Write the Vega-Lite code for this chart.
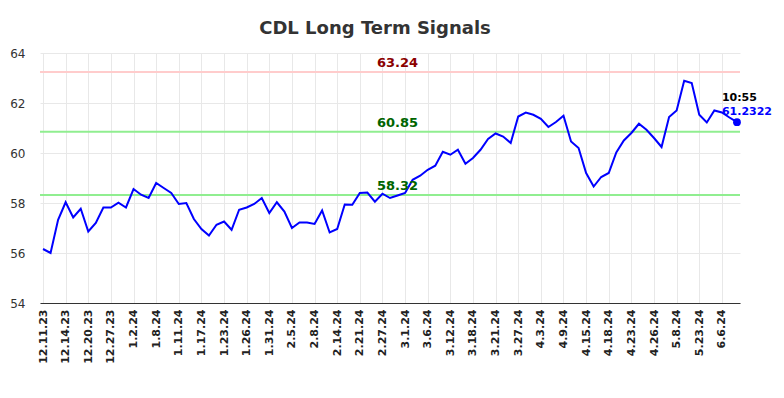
{
  "$schema": "https://vega.github.io/schema/vega-lite/v6.json",
  "width": 700,
  "height": 250,
  "autosize": "none",
  "padding": {"left": 40, "top": 53, "right": 44, "bottom": 95},
  "background": "white",
  "title": {
    "text": "CDL Long Term Signals",
    "fontSize": 18,
    "fontWeight": "bold",
    "color": "#333333",
    "font": "DejaVu Sans",
    "anchor": "middle",
    "dx": -15,
    "offset": 9
  },
  "config": {
    "view": {"stroke": null},
    "font": "DejaVu Sans"
  },
  "data": {
    "values": [
      {"date": "12.11.23", "v": 56.16}, {"date": "12.12.23", "v": 56.0}, {"date": "12.13.23", "v": 57.33},
      {"date": "12.14.23", "v": 58.03}, {"date": "12.15.23", "v": 57.42}, {"date": "12.18.23", "v": 57.77},
      {"date": "12.20.23", "v": 56.86}, {"date": "12.21.23", "v": 57.2}, {"date": "12.22.23", "v": 57.82},
      {"date": "12.27.23", "v": 57.82}, {"date": "12.28.23", "v": 58.01}, {"date": "12.29.23", "v": 57.82},
      {"date": "1.2.24", "v": 58.56}, {"date": "1.3.24", "v": 58.33}, {"date": "1.4.24", "v": 58.2},
      {"date": "1.8.24", "v": 58.8}, {"date": "1.9.24", "v": 58.6}, {"date": "1.10.24", "v": 58.4},
      {"date": "1.11.24", "v": 57.96}, {"date": "1.12.24", "v": 58.0}, {"date": "1.16.24", "v": 57.36},
      {"date": "1.17.24", "v": 56.96}, {"date": "1.18.24", "v": 56.7}, {"date": "1.19.24", "v": 57.13},
      {"date": "1.23.24", "v": 57.26}, {"date": "1.24.24", "v": 56.93}, {"date": "1.25.24", "v": 57.73},
      {"date": "1.26.24", "v": 57.82}, {"date": "1.29.24", "v": 57.96}, {"date": "1.30.24", "v": 58.2},
      {"date": "1.31.24", "v": 57.6}, {"date": "2.1.24", "v": 58.03}, {"date": "2.2.24", "v": 57.66},
      {"date": "2.5.24", "v": 57.0}, {"date": "2.6.24", "v": 57.22}, {"date": "2.7.24", "v": 57.22},
      {"date": "2.8.24", "v": 57.16}, {"date": "2.9.24", "v": 57.7}, {"date": "2.13.24", "v": 56.82},
      {"date": "2.14.24", "v": 56.96}, {"date": "2.15.24", "v": 57.94}, {"date": "2.20.24", "v": 57.93},
      {"date": "2.21.24", "v": 58.4}, {"date": "2.22.24", "v": 58.42}, {"date": "2.26.24", "v": 58.05},
      {"date": "2.27.24", "v": 58.37}, {"date": "2.28.24", "v": 58.2}, {"date": "2.29.24", "v": 58.3},
      {"date": "3.1.24", "v": 58.4}, {"date": "3.4.24", "v": 58.93}, {"date": "3.5.24", "v": 59.09},
      {"date": "3.6.24", "v": 59.33}, {"date": "3.7.24", "v": 59.49}, {"date": "3.11.24", "v": 60.05},
      {"date": "3.12.24", "v": 59.93}, {"date": "3.13.24", "v": 60.13}, {"date": "3.15.24", "v": 59.57},
      {"date": "3.18.24", "v": 59.8}, {"date": "3.19.24", "v": 60.13}, {"date": "3.20.24", "v": 60.56},
      {"date": "3.21.24", "v": 60.78}, {"date": "3.22.24", "v": 60.66}, {"date": "3.26.24", "v": 60.4},
      {"date": "3.27.24", "v": 61.46}, {"date": "3.28.24", "v": 61.62}, {"date": "4.2.24", "v": 61.53},
      {"date": "4.3.24", "v": 61.37}, {"date": "4.4.24", "v": 61.04}, {"date": "4.8.24", "v": 61.24},
      {"date": "4.9.24", "v": 61.49}, {"date": "4.11.24", "v": 60.46}, {"date": "4.12.24", "v": 60.2},
      {"date": "4.15.24", "v": 59.2}, {"date": "4.16.24", "v": 58.66}, {"date": "4.17.24", "v": 59.04},
      {"date": "4.18.24", "v": 59.2}, {"date": "4.19.24", "v": 60.02}, {"date": "4.22.24", "v": 60.5},
      {"date": "4.23.24", "v": 60.8}, {"date": "4.24.24", "v": 61.17}, {"date": "4.25.24", "v": 60.93},
      {"date": "4.26.24", "v": 60.6}, {"date": "4.30.24", "v": 60.24}, {"date": "5.3.24", "v": 61.44},
      {"date": "5.8.24", "v": 61.7}, {"date": "5.13.24", "v": 62.89}, {"date": "5.17.24", "v": 62.8},
      {"date": "5.23.24", "v": 61.53}, {"date": "5.28.24", "v": 61.22}, {"date": "6.3.24", "v": 61.7},
      {"date": "6.6.24", "v": 61.62}, {"date": "6.7.24", "v": 61.42}, {"date": "6.10.24", "v": 61.2322}
    ]
  },
  "encoding": {
    "x": {
      "field": "date",
      "type": "ordinal",
      "sort": null,
      "scale": {"type": "point", "padding": 0.4},
      "axis": {
        "title": null,
        "values": ["12.11.23", "12.14.23", "12.20.23", "12.27.23", "1.2.24", "1.8.24", "1.11.24", "1.17.24", "1.23.24", "1.26.24", "1.31.24", "2.5.24", "2.8.24", "2.14.24", "2.21.24", "2.27.24", "3.1.24", "3.6.24", "3.12.24", "3.18.24", "3.21.24", "3.27.24", "4.3.24", "4.9.24", "4.15.24", "4.18.24", "4.23.24", "4.26.24", "5.8.24", "5.23.24", "6.6.24"],
        "labelAngle": -90,
        "labelFontSize": 11,
        "labelFontWeight": "bold",
        "labelColor": "#222222",
        "labelPadding": 6,
        "ticks": false,
        "grid": true,
        "gridColor": "#e8e8e8",
        "gridWidth": 1,
        "domainColor": "#333333",
        "domainWidth": 1
      }
    },
    "y": {
      "field": "v",
      "type": "quantitative",
      "scale": {"domain": [54, 64], "nice": false, "zero": false},
      "axis": {
        "title": null,
        "values": [54, 56, 58, 60, 62, 64],
        "labelFontSize": 12,
        "labelColor": "#333333",
        "labelPadding": 15,
        "ticks": false,
        "domain": false,
        "grid": true,
        "gridColor": "#e8e8e8",
        "gridWidth": 1
      }
    }
  },
  "layer": [
    {
      "data": {"values": [{"level": 63.24, "kind": "r"}, {"level": 60.85, "kind": "g"}, {"level": 58.32, "kind": "g"}]},
      "mark": {"type": "rule", "strokeWidth": 2},
      "encoding": {
        "x": null,
        "y": {"field": "level", "type": "quantitative"},
        "color": {"field": "kind", "type": "nominal", "scale": {"domain": ["r", "g"], "range": ["#ffcccc", "#90ee90"]}, "legend": null}
      }
    },
    {"mark": {"type": "line", "color": "#0000ff", "strokeWidth": 2}},
    {
      "data": {"values": [{"level": 63.24, "kind": "r"}, {"level": 60.85, "kind": "g"}, {"level": 58.32, "kind": "g"}]},
      "mark": {"type": "text", "fontSize": 13, "fontWeight": "bold", "baseline": "bottom", "dy": -2},
      "encoding": {
        "x": {"datum": "2.29.24"},
        "y": {"field": "level", "type": "quantitative"},
        "text": {"field": "level", "type": "quantitative", "format": ".2f"},
        "fill": {"field": "kind", "type": "nominal", "scale": {"domain": ["r", "g"], "range": ["#8b0000", "#006400"]}, "legend": null}
      }
    },
    {
      "data": {"values": [{"label": "Stock Traders Daily"}]},
      "mark": {"type": "text", "color": "#999999", "fontSize": 13, "fontWeight": "bold", "align": "left", "baseline": "middle", "dx": 3, "dy": -1, "opacity": 0.85},
      "encoding": {"x": {"datum": "12.12.23"}, "y": {"datum": 54}, "text": {"field": "label"}}
    },
    {
      "transform": [{"filter": "datum.date == '6.10.24'"}],
      "layer": [
        {"mark": {"type": "circle", "color": "#0000ff", "size": 60, "opacity": 1}},
        {
          "mark": {"type": "text", "color": "#000000", "fontSize": 11, "fontWeight": "bold", "align": "left", "baseline": "middle", "dy": -24},
          "encoding": {"x": {"datum": "6.6.24"}, "text": {"value": "10:55"}}
        },
        {
          "mark": {"type": "text", "color": "#0000ff", "fontSize": 11, "fontWeight": "bold", "align": "left", "baseline": "middle", "dy": -10},
          "encoding": {"x": {"datum": "6.6.24"}, "text": {"field": "v", "type": "quantitative", "format": ".4f"}}
        }
      ]
    }
  ]
}
